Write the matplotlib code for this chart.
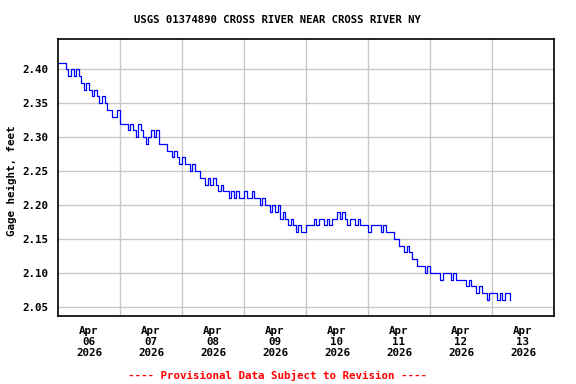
import numpy as np
import pandas as pd
import matplotlib
matplotlib.use('Agg')
import matplotlib.pyplot as plt
import matplotlib.dates as mdates

# hourly gage height readings, feet, starting 2026-04-06 00:00
gage = [2.41, 2.41, 2.41, 2.40, 2.39, 2.40, 2.39, 2.40, 2.39, 2.38, 2.37, 2.38,
        2.37, 2.36, 2.37, 2.36, 2.35, 2.36, 2.35, 2.34, 2.34, 2.33, 2.33, 2.34,
        2.32, 2.32, 2.32, 2.31, 2.32, 2.31, 2.30, 2.32, 2.31, 2.30, 2.29, 2.30,
        2.31, 2.30, 2.31, 2.29, 2.29, 2.29, 2.28, 2.28, 2.27, 2.28, 2.27, 2.26,
        2.27, 2.26, 2.26, 2.25, 2.26, 2.25, 2.25, 2.24, 2.24, 2.23, 2.24, 2.23,
        2.24, 2.23, 2.22, 2.23, 2.22, 2.22, 2.21, 2.22, 2.21, 2.22, 2.21, 2.21,
        2.22, 2.21, 2.21, 2.22, 2.21, 2.21, 2.20, 2.21, 2.20, 2.20, 2.19, 2.20,
        2.19, 2.20, 2.18, 2.19, 2.18, 2.17, 2.18, 2.17, 2.16, 2.17, 2.16, 2.16,
        2.17, 2.17, 2.17, 2.18, 2.17, 2.18, 2.18, 2.17, 2.18, 2.17, 2.18, 2.18,
        2.19, 2.18, 2.19, 2.18, 2.17, 2.18, 2.18, 2.17, 2.18, 2.17, 2.17, 2.17,
        2.16, 2.17, 2.17, 2.17, 2.17, 2.16, 2.17, 2.16, 2.16, 2.16, 2.15, 2.15,
        2.14, 2.14, 2.13, 2.14, 2.13, 2.12, 2.12, 2.11, 2.11, 2.11, 2.10, 2.11,
        2.10, 2.10, 2.10, 2.10, 2.09, 2.10, 2.10, 2.10, 2.09, 2.10, 2.09, 2.09,
        2.09, 2.09, 2.08, 2.09, 2.08, 2.08, 2.07, 2.08, 2.07, 2.07, 2.06, 2.07,
        2.07, 2.07, 2.06, 2.07, 2.06, 2.07, 2.07, 2.06]
times = pd.date_range('2026-04-06 00:00', periods=len(gage), freq='h')

days = pd.date_range('2026-04-06', '2026-04-14', freq='D')
day_labels = ['Apr\n06\n2026', 'Apr\n07\n2026', 'Apr\n08\n2026', 'Apr\n09\n2026',
              'Apr\n10\n2026', 'Apr\n11\n2026', 'Apr\n12\n2026', 'Apr\n13\n2026']
yticks = [2.05, 2.10, 2.15, 2.20, 2.25, 2.30, 2.35, 2.40]

mono = 'DejaVu Sans Mono'
fig = plt.figure(figsize=(5.76, 3.84), dpi=100)
ax = fig.add_axes([0.1007, 0.1771, 0.8611, 0.7213])
ax.plot(times, gage, color='#0000ff', lw=0.9, drawstyle='steps-post')

ax.set_xlim(days[0], days[-1])
ax.set_ylim(2.0363, 2.4447)
ax.set_xticks(days[1:-1])
ax.set_xticklabels([])
ax.set_xticks(days[:-1] + pd.Timedelta(hours=12), minor=True)
ax.set_xticklabels(day_labels, minor=True, fontfamily=mono, fontweight='bold',
                   fontsize=7.8, linespacing=1.15)
ax.set_yticks(yticks)
ax.set_yticklabels(['%.2f' % v for v in yticks], fontfamily=mono, fontweight='bold', fontsize=7.8)
ax.tick_params(which='both', length=0, pad=7)
ax.tick_params(axis='y', pad=7)
ax.grid(True, which='major', color='#c8c8c8', lw=1)
for s in ax.spines.values():
    s.set_linewidth(1.2)

fig.text(277 / 576, 1 - 20 / 384, 'USGS 01374890 CROSS RIVER NEAR CROSS RIVER NY',
         ha='center', va='center', fontfamily=mono, fontweight='bold', fontsize=7.7)
fig.text(12 / 576, 1 - 181 / 384, 'Gage height, feet', rotation=90,
         ha='center', va='center', fontfamily=mono, fontweight='bold', fontsize=7.8)
fig.text(277 / 576, 1 - 375 / 384, '---- Provisional Data Subject to Revision ----',
         ha='center', va='center', color='#ff0000', fontfamily=mono, fontweight='bold', fontsize=7.8)

fig.savefig('out.png', dpi=100)
